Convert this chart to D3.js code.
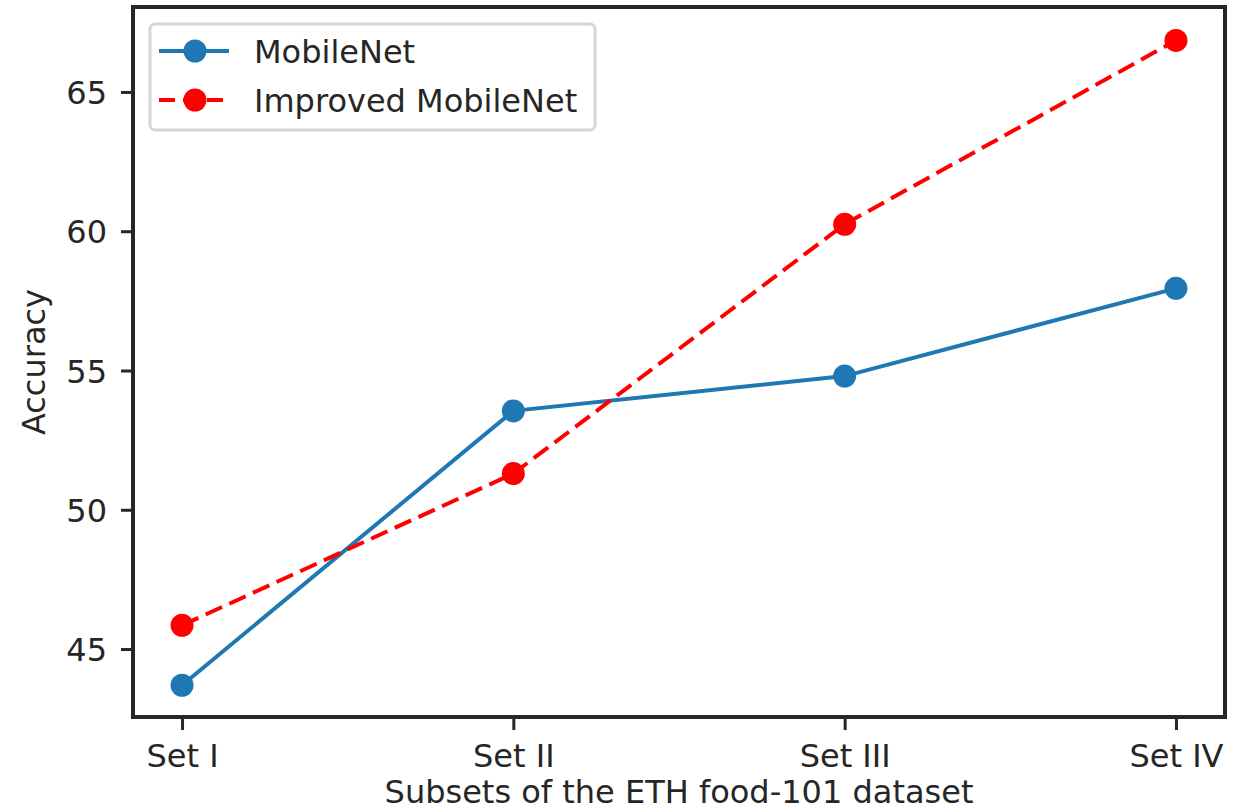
<!DOCTYPE html>
<html>
<head>
<meta charset="utf-8">
<script src="https://cdn.jsdelivr.net/npm/d3@7"></script>
<style>
  body { margin: 0; background: #fff; }
  text { font-family: "DejaVu Sans", sans-serif; fill: #262626; }
</style>
</head>
<body>
<div id="chart"></div>
<script>
// data
const subsets = ["Set I", "Set II", "Set III", "Set IV"];
const mobileNet = [43.7, 53.55, 54.8, 57.95];
const improved = [45.85, 51.3, 60.25, 66.85];
const yTicks = [45, 50, 55, 60, 65];

const width = 1238, height = 812,
    margin = ({ top: 7, right: 13, bottom: 95, left: 133 });

const svg = d3.select("#chart")
    .append("svg")
    .attr("width", width)
    .attr("height", height);

// matplotlib style padding around the data
let x = d3.scaleLinear()
    .domain([-0.148, 3.148])
    .range([margin.left, width - margin.right]);

let y = d3.scaleLinear()
    .domain([42.56, 68.05])
    .range([height - margin.bottom, margin.top]);

const fs = 32;

// axes
let xAxis = svg.append("g")
    .attr("transform", `translate(0,${height - margin.bottom})`)
    .call(d3.axisBottom(x).tickValues(d3.range(subsets.length))
      .tickFormat(i => subsets[i]).tickSize(13).tickPadding(8).tickSizeOuter(0));

let yAxis = svg.append("g")
    .attr("transform", `translate(${margin.left},0)`)
    .call(d3.axisLeft(y).tickValues(yTicks).tickSize(12).tickPadding(14).tickSizeOuter(0));

[xAxis, yAxis].forEach(g => {
  g.select(".domain").remove();
  g.selectAll(".tick line").attr("stroke", "#262626").attr("stroke-width", 3);
  g.selectAll(".tick text").attr("font-size", fs).attr("font-family", "DejaVu Sans").attr("fill", "#262626");
});
xAxis.selectAll(".tick text").attr("dy", "0.9em");
yAxis.selectAll(".tick text").attr("dy", "0.36em");

// frame
svg.append("rect")
    .attr("x", margin.left)
    .attr("y", margin.top)
    .attr("width", width - margin.left - margin.right)
    .attr("height", height - margin.top - margin.bottom)
    .attr("fill", "none")
    .attr("stroke", "#262626")
    .attr("stroke-width", 4);

// axis labels
svg.append("text")
    .attr("text-anchor", "middle")
    .attr("x", (margin.left + width - margin.right) / 2)
    .attr("y", 803)
    .attr("font-size", fs)
    .text("Subsets of the ETH food-101 dataset");

svg.append("text")
    .attr("text-anchor", "middle")
    .attr("transform", `translate(45,${(margin.top + height - margin.bottom) / 2}) rotate(-90)`)
    .attr("font-size", fs)
    .text("Accuracy");

let line = d3.line()
    .x((d, i) => x(i))
    .y(d => y(d));

const series = [
  { name: "MobileNet", values: mobileNet, color: "#1f77b4", dash: null },
  { name: "Improved MobileNet", values: improved, color: "#ff0000", dash: "18,8" }
];

series.forEach(s => {
  svg.append("path")
      .datum(s.values)
      .attr("d", line)
      .attr("fill", "none")
      .attr("stroke", s.color)
      .attr("stroke-width", 4)
      .attr("stroke-dasharray", s.dash);

  svg.selectAll(null)
      .data(s.values)
      .join("circle")
      .attr("cx", (d, i) => x(i))
      .attr("cy", d => y(d))
      .attr("r", 11.5)
      .attr("fill", s.color);
});

// legend
let legend = svg.append("g");
legend.append("rect")
    .attr("x", 150)
    .attr("y", 24)
    .attr("width", 445)
    .attr("height", 106)
    .attr("rx", 5)
    .attr("fill", "#fff")
    .attr("stroke", "#d6d6d6")
    .attr("stroke-width", 3);

series.forEach((s, i) => {
  let ly = 51 + i * 49;
  legend.append("line")
      .attr("x1", 159).attr("x2", 229)
      .attr("y1", ly).attr("y2", ly)
      .attr("stroke", s.color)
      .attr("stroke-width", 4)
      .attr("stroke-dasharray", s.dash ? "16,8" : null);
  legend.append("circle")
      .attr("cx", 195).attr("cy", ly)
      .attr("r", 11.5)
      .attr("fill", s.color);
  legend.append("text")
      .attr("x", 254)
      .attr("y", ly)
      .attr("dy", "0.36em")
      .attr("font-size", fs)
      .text(s.name);
});
</script>
</body>
</html>
